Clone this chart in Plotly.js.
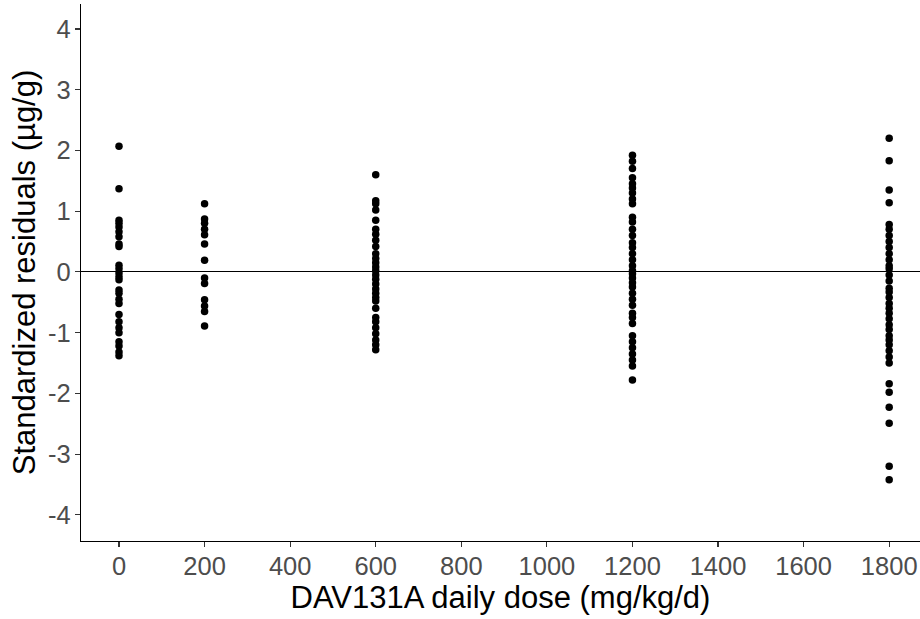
<!DOCTYPE html>
<html>
<head>
<meta charset="utf-8">
<script src="https://cdn.plot.ly/plotly-3.0.1.min.js"></script>
<style>html,body{margin:0;padding:0;background:#fff;}#chart{width:920px;height:619px;}</style>
</head>
<body>
<div id="chart"></div>
<script>
const dose0 = [2.07, 1.37, 0.85, 0.80, 0.74, 0.66, 0.58, 0.46, 0.42, 0.11, 0.05, -0.02, -0.08, -0.13, -0.30, -0.35, -0.45, -0.52, -0.70, -0.82, -0.92, -1.00, -1.15, -1.22, -1.32, -1.38];
const dose200 = [1.12, 0.87, 0.80, 0.70, 0.61, 0.46, 0.19, -0.10, -0.19, -0.46, -0.56, -0.65, -0.89];
const dose600 = [1.60, 1.17, 1.12, 1.02, 0.85, 0.70, 0.62, 0.52, 0.42, 0.30, 0.22, 0.15, 0.08, 0.02, -0.05, -0.12, -0.20, -0.28, -0.35, -0.42, -0.48, -0.60, -0.75, -0.82, -0.92, -1.02, -1.12, -1.20, -1.28];
const dose1200 = [1.92, 1.82, 1.70, 1.55, 1.45, 1.38, 1.30, 1.20, 1.12, 0.90, 0.82, 0.70, 0.60, 0.48, 0.40, 0.30, 0.20, 0.10, 0.02, -0.03, -0.10, -0.18, -0.25, -0.35, -0.45, -0.55, -0.68, -0.75, -0.85, -1.05, -1.15, -1.25, -1.35, -1.45, -1.55, -1.78];
const dose1800 = [2.20, 1.83, 1.35, 1.14, 0.78, 0.70, 0.60, 0.50, 0.40, 0.30, 0.20, 0.10, 0.05, -0.05, -0.15, -0.27, -0.33, -0.42, -0.52, -0.60, -0.68, -0.77, -0.87, -0.95, -1.05, -1.12, -1.20, -1.30, -1.40, -1.50, -1.84, -1.98, -2.23, -2.49, -3.20, -3.42];

const groups = [[0, dose0], [200, dose200], [600, dose600], [1200, dose1200], [1800, dose1800]];
const xs = [], ys = [];
groups.forEach(([d, vals]) => vals.forEach(v => { xs.push(d); ys.push(v); }));

const xTicks = [0, 200, 400, 600, 800, 1000, 1200, 1400, 1600, 1800];
const yTicks = [-4, -3, -2, -1, 0, 1, 2, 3, 4];

const font = "Liberation Sans, Arial, sans-serif";
Plotly.newPlot('chart', [{
  x: xs, y: ys, type: 'scatter', mode: 'markers',
  marker: {color: '#000', size: 7.5}, showlegend: false, hoverinfo: 'x+y'
}], {
  width: 920, height: 619,
  margin: {l: 81, r: 0, t: 4, b: 78},
  paper_bgcolor: '#fff', plot_bgcolor: '#fff',
  font: {family: font},
  xaxis: {
    range: [-88.8, 1872], tickvals: xTicks, ticktext: xTicks.map(String),
    showgrid: false, zeroline: false, showline: true, linecolor: '#000', linewidth: 1.2,
    ticks: 'outside', ticklen: 5, tickcolor: '#333', tickwidth: 1.2, ticklabelstandoff: -3,
    tickfont: {size: 25.5, color: '#4d4d4d', family: font},
    title: {text: 'DAV131A daily dose (mg/kg/d)', font: {size: 31, color: '#000', family: font}, standoff: 2}
  },
  yaxis: {
    range: [-4.43, 4.41], tickvals: yTicks, ticktext: yTicks.map(String),
    showgrid: false, zeroline: true, zerolinecolor: '#000', zerolinewidth: 1.2,
    showline: true, linecolor: '#000', linewidth: 1.2,
    ticks: 'outside', ticklen: 5, tickcolor: '#333', tickwidth: 1.2, ticklabelstandoff: -1,
    tickfont: {size: 25.5, color: '#4d4d4d', family: font},
    title: {text: 'Standardized residuals (µg/g)', font: {size: 31, color: '#000', family: font}, standoff: 3}
  }
}, {displayModeBar: false, staticPlot: true});
</script>
</body>
</html>
